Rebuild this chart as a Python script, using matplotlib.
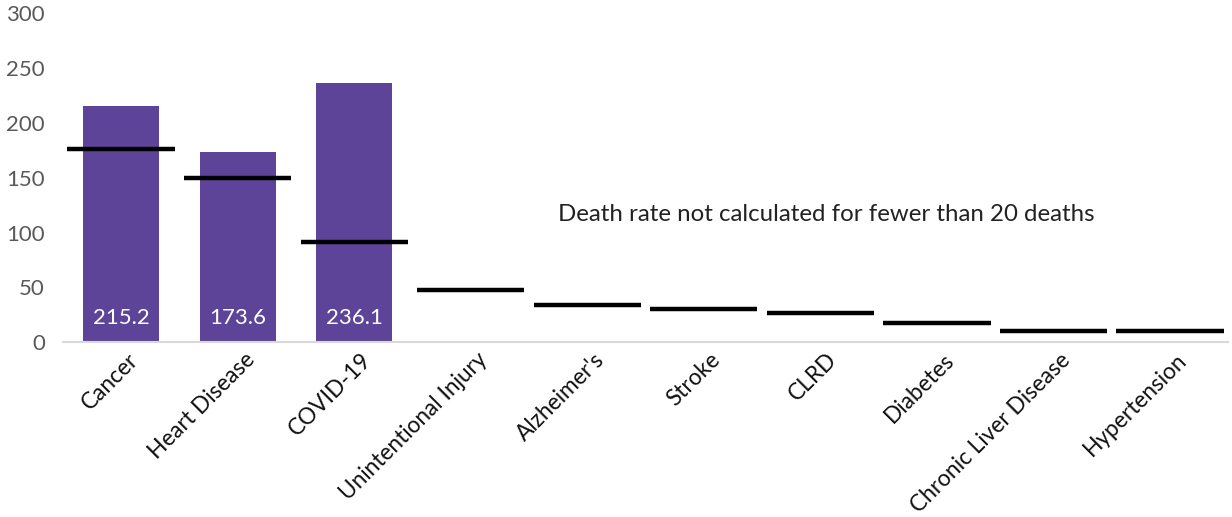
import numpy as np
import matplotlib
matplotlib.use("Agg")
import matplotlib.pyplot as plt
import matplotlib.transforms as mtransforms

plt.rcParams["font.family"] = ["Lato", "DejaVu Sans"]

causes = ["Cancer", "Heart Disease", "COVID-19", "Unintentional Injury", "Alzheimer's",
          "Stroke", "CLRD", "Diabetes", "Chronic Liver Disease", "Hypertension"]
county_rate = [215.2, 173.6, 236.1]          # only the first three have enough deaths
state_rate = [176.7, 149.5, 91.4, 47.8, 33.8, 30.2, 26.8, 17.4, 10.3, 10.3]
y_ticks = [0, 50, 100, 150, 200, 250, 300]
note = "Death rate not calculated for fewer than 20 deaths"

fig = plt.figure(figsize=(12.32, 5.17), dpi=100)
ax = fig.add_axes([0.051, 0.338, 0.946, 0.636])

x = np.arange(len(causes))
bars = ax.bar(x[:len(county_rate)], county_rate, width=0.65, color="#5E4499", zorder=2)
for b, v in zip(bars, county_rate):
    ax.text(b.get_x() + b.get_width() / 2, 22, f"{v:.1f}", ha="center", va="center",
            color="white", fontsize=16, zorder=3)

ax.hlines(state_rate, x - 0.46, x + 0.46, colors="black", linewidth=3.2, zorder=4)

ax.text(6.05, 117, note, ha="center", va="center", fontsize=17.3, color="#222222")

ax.set_xlim(-0.5, len(causes) - 0.5)
ax.set_ylim(0, 300)
ax.set_yticks(y_ticks)
ax.set_yticklabels([str(t) for t in y_ticks], fontsize=16, color="#595959")
ax.set_xticks(x)
ax.set_xticklabels(causes, rotation=45, ha="right", rotation_mode="anchor",
                   fontsize=16.3, color="#111111")
ax.tick_params(axis="both", length=0)
ax.tick_params(axis="y", pad=13)
ax.tick_params(axis="x", pad=5)

# the slanted category labels end slightly right of their tick
shift = mtransforms.ScaledTranslation(6 / 100, 0, fig.dpi_scale_trans)
for lbl in ax.get_xticklabels():
    lbl.set_transform(lbl.get_transform() + shift)

for side in ["top", "right", "left"]:
    ax.spines[side].set_visible(False)
ax.spines["bottom"].set_color("#D9D9D9")
ax.spines["bottom"].set_linewidth(1.5)

fig.savefig("out.png", dpi=100)
